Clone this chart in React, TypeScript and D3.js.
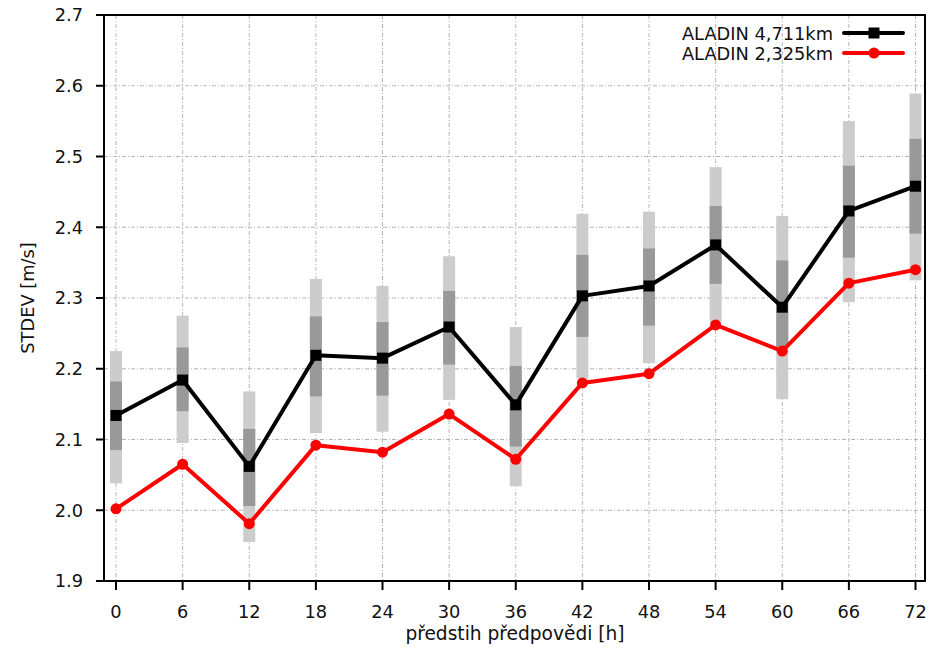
import React from "react";
import * as d3 from "d3";

// Forecast lead times [h]
const leadTimes = [0, 6, 12, 18, 24, 30, 36, 42, 48, 54, 60, 66, 72];

// ALADIN 4,711km: mean STDEV and its spread (outer / inner range)
const coarseMean = [2.134, 2.184, 2.062, 2.219, 2.215, 2.259, 2.149, 2.303, 2.317, 2.375, 2.287, 2.423, 2.458];
const outerLow = [2.038, 2.095, 1.955, 2.109, 2.111, 2.156, 2.034, 2.186, 2.208, 2.265, 2.157, 2.294, 2.325];
const outerHigh = [2.225, 2.275, 2.168, 2.327, 2.317, 2.359, 2.259, 2.419, 2.422, 2.485, 2.416, 2.550, 2.589];
const innerLow = [2.085, 2.140, 2.006, 2.161, 2.162, 2.206, 2.090, 2.245, 2.261, 2.320, 2.231, 2.357, 2.391];
const innerHigh = [2.182, 2.230, 2.115, 2.274, 2.266, 2.310, 2.204, 2.361, 2.370, 2.430, 2.353, 2.487, 2.525];

// ALADIN 2,325km: mean STDEV
const fineMean = [2.002, 2.065, 1.981, 2.092, 2.082, 2.136, 2.072, 2.180, 2.193, 2.262, 2.225, 2.321, 2.340];

const yTicks = [1.9, 2.0, 2.1, 2.2, 2.3, 2.4, 2.5, 2.6, 2.7];
const seriesNames = ["ALADIN 4,711km", "ALADIN 2,325km"];

const W = 940;
const H = 655;
const frame = { left: 104, right: 925, top: 15, bottom: 581 };

const x = d3.scaleLinear().domain([0, 72]).range([116, 915.5]);
const y = d3.scaleLinear().domain([1.9, 2.7]).range([frame.bottom, frame.top]);

const font = "'DejaVu Sans', sans-serif";
const fs = 17.8;

export default function App() {
  const line = d3
    .line<number>()
    .x((_, i) => x(leadTimes[i]))
    .y((d) => y(d));

  const barW = 12;
  const grid = "4,2,1,2";

  return (
    <svg
      width={W}
      height={H}
      style={{ position: "absolute", left: 0, top: 0, background: "#fff" }}
      fontFamily={font}
    >
      {/* grid */}
      <g stroke="#b4b4b4" strokeWidth={1} strokeDasharray={grid}>
        {yTicks.slice(1, -1).map((t) => (
          <line key={"gy" + t} x1={frame.left} x2={frame.right} y1={y(t)} y2={y(t)} />
        ))}
        {leadTimes.map((t) => (
          <line key={"gx" + t} x1={x(t)} x2={x(t)} y1={frame.top} y2={frame.bottom} />
        ))}
      </g>

      {/* spread bars */}
      {leadTimes.map((t, i) => (
        <g key={"bar" + t}>
          <rect
            x={x(t) - barW / 2}
            width={barW}
            y={y(outerHigh[i])}
            height={y(outerLow[i]) - y(outerHigh[i])}
            fill="#cccccc"
          />
          <rect
            x={x(t) - barW / 2}
            width={barW}
            y={y(innerHigh[i])}
            height={y(innerLow[i]) - y(innerHigh[i])}
            fill="#999999"
          />
        </g>
      ))}

      {/* series lines */}
      <path d={line(coarseMean) || ""} fill="none" stroke="#000" strokeWidth={4} strokeLinejoin="round" />
      {coarseMean.map((v, i) => (
        <rect key={"sq" + i} x={x(leadTimes[i]) - 5.5} y={y(v) - 5.5} width={11} height={11} fill="#000" />
      ))}
      <path d={line(fineMean) || ""} fill="none" stroke="#ff0000" strokeWidth={4} strokeLinejoin="round" />
      {fineMean.map((v, i) => (
        <circle key={"ci" + i} cx={x(leadTimes[i])} cy={y(v)} r={5.5} fill="#ff0000" />
      ))}

      {/* frame */}
      <rect
        x={frame.left}
        y={frame.top}
        width={frame.right - frame.left}
        height={frame.bottom - frame.top}
        fill="none"
        stroke="#000"
        strokeWidth={2}
      />

      {/* y axis */}
      {yTicks.map((t) => (
        <g key={"yt" + t}>
          <line x1={frame.left - 8} x2={frame.left} y1={y(t)} y2={y(t)} stroke="#000" strokeWidth={2} />
          <text x={83} y={y(t)} dy="0.36em" textAnchor="end" fontSize={fs} fill="#111">
            {d3.format(".1f")(t)}
          </text>
        </g>
      ))}

      {/* x axis */}
      {leadTimes.map((t) => (
        <g key={"xt" + t}>
          <line x1={x(t)} x2={x(t)} y1={frame.bottom} y2={frame.bottom + 9} stroke="#000" strokeWidth={2} />
          <text x={x(t)} y={618} textAnchor="middle" fontSize={fs} fill="#111">
            {t}
          </text>
        </g>
      ))}

      <text x={515} y={640} textAnchor="middle" fontSize={18.6} fill="#111">
        předstih předpovědi [h]
      </text>
      <text
        transform={`translate(33.5, ${(frame.top + frame.bottom) / 2}) rotate(-90)`}
        textAnchor="middle"
        fontSize={fs}
        fill="#111"
      >
        STDEV [m/s]
      </text>

      {/* legend */}
      <g>
        <text x={833} y={39.5} textAnchor="end" fontSize={fs} fill="#111">
          {seriesNames[0]}
        </text>
        <line x1={844} x2={903} y1={33} y2={33} stroke="#000" strokeWidth={4} strokeLinecap="round" />
        <rect x={868.5} y={27.5} width={11} height={11} fill="#000" />
        <text x={833} y={59.5} textAnchor="end" fontSize={fs} fill="#111">
          {seriesNames[1]}
        </text>
        <line x1={844} x2={903} y1={53} y2={53} stroke="#ff0000" strokeWidth={4} strokeLinecap="round" />
        <circle cx={874} cy={53} r={5.5} fill="#ff0000" />
      </g>
    </svg>
  );
}
